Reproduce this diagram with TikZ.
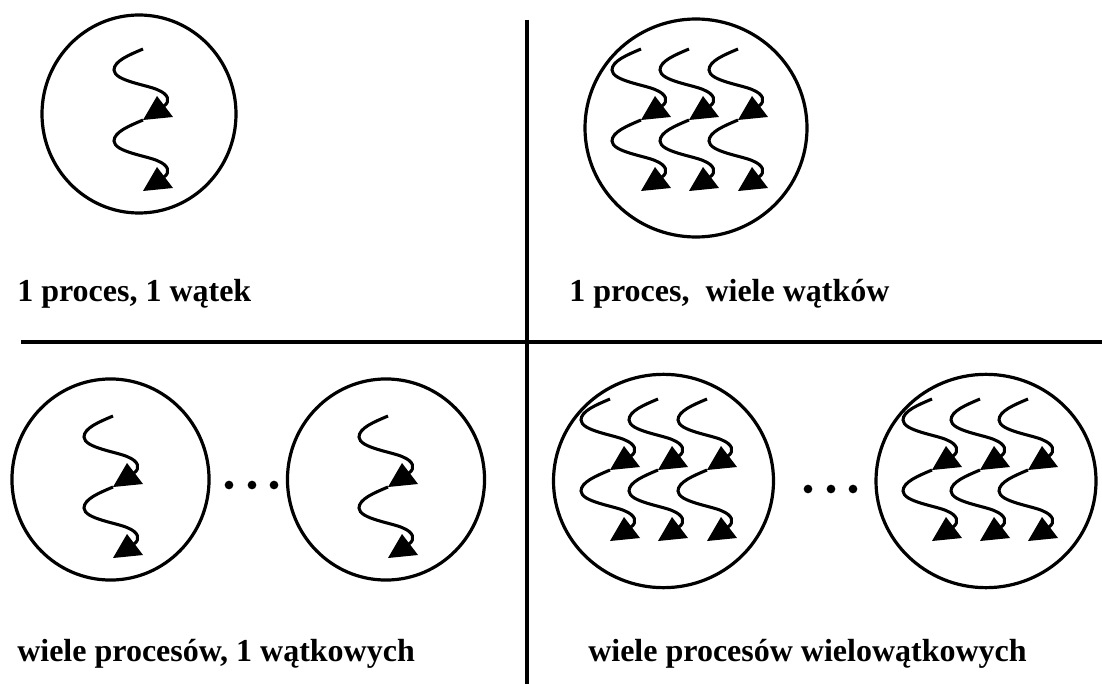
\documentclass[tikz,border=0pt]{standalone}
\usepackage{fontspec}
\setmainfont{Liberation Serif}
\begin{document}
\begin{tikzpicture}[x=0.75pt,y=-0.75pt,
  line/.style={line width=2.4pt},
  wave/.style={line width=2.3pt},
  label/.style={anchor=base west,inner sep=0pt,font=\fontsize{24}{28}\selectfont\bfseries},
  dot/.style={circle,fill=black,inner sep=0pt,minimum size=6.5pt},
  thread/.pic={
    \foreach \d in {0,71}{
      \draw[wave] (0,\d) .. controls (-14,6+\d) and (-29,12+\d) .. (-29,21+\d)
        .. controls (-29,32+\d) and (5,36+\d) .. (15,41+\d)
        .. controls (25,45+\d) and (28,52+\d) .. (21,57+\d);
      \fill (14,47+\d) -- (0,71+\d) -- (30,68+\d) -- cycle;
    }
  }]
\useasboundingbox (0,0) rectangle (1102,684);
% dividing lines
\coordinate (htop) at (21,342);
\coordinate (hend) at (1102,342);
\coordinate (vtop) at (527,20);
\coordinate (vend) at (527,684);
\draw[line] (htop) -- (hend);
\draw[line] (vtop) -- (vend);
% processes
\draw[line] (139,114) ellipse [x radius=72.75pt, y radius=74.25pt];
\pic at (143,49) {thread};
\draw[line] (696,128) ellipse [x radius=83.25pt, y radius=81.75pt];
\foreach \x in {641,689,738} \pic at (\x,49) {thread};
\draw[line] (110.5,479.5) ellipse [x radius=73.9pt, y radius=75.4pt];
\pic at (113,416) {thread};
\draw[line] (386,479.5) ellipse [x radius=73.9pt, y radius=75.4pt];
\pic at (388,416) {thread};
\draw[line] (663.5,481) ellipse [x radius=82.5pt, y radius=80pt];
\foreach \x in {610,658,707} \pic at (\x,399) {thread};
\draw[line] (986,481) ellipse [x radius=82.5pt, y radius=80pt];
\foreach \x in {932,980,1028} \pic at (\x,399) {thread};
% dots
\node[dot] (d1) at (229,485) {};
\node[dot] (d2) at (252,485) {};
\node[dot] (d3) at (274,485) {};
\node[dot] (d4) at (808,489) {};
\node[dot] (d5) at (831,489) {};
\node[dot] (d6) at (853,489) {};
% labels
\node[label] (t1) at (17,301) {1 proces, 1 wątek};
\node[label] (t2) at (569,301) {1 proces,\ \ wiele wątków};
\node[label] (t3) at (17,661) {wiele procesów, 1 wątkowych};
\node[label] (t4) at (588,661) {wiele procesów wielowątkowych};
\end{tikzpicture}
\end{document}
